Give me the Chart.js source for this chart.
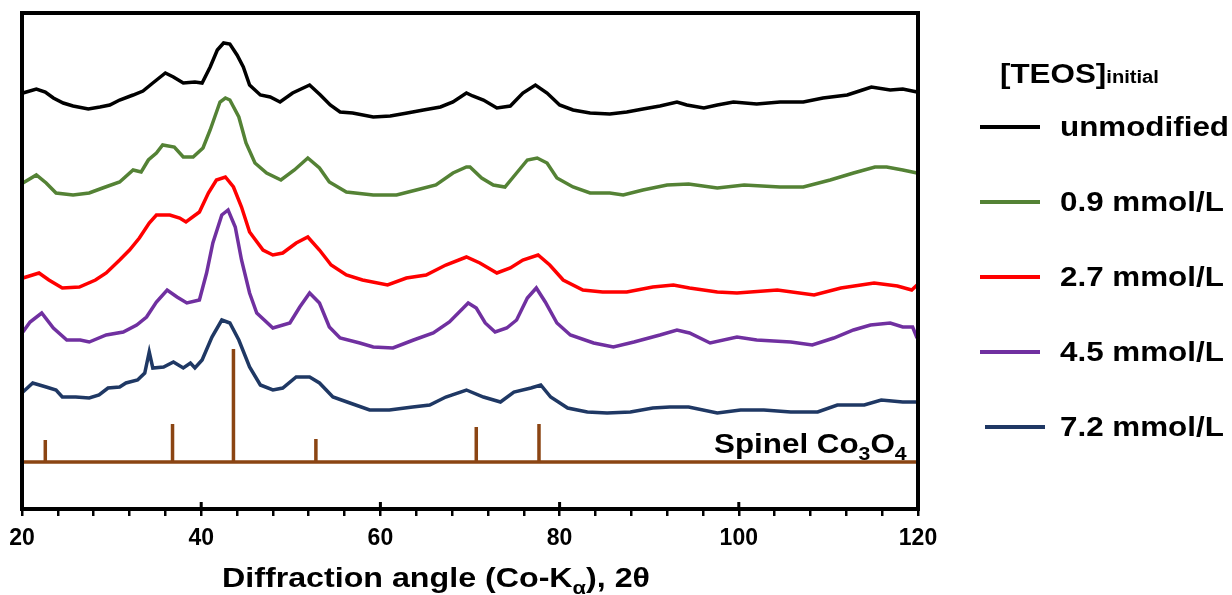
<!DOCTYPE html>
<html><head><meta charset="utf-8">
<script src="https://cdn.jsdelivr.net/npm/chart.js@4"></script>
<style>
body{margin:0;background:#fff}
#wrap{position:relative;width:1232px;height:595px;font-family:"Liberation Sans",Arial,sans-serif;font-weight:bold;color:#000;overflow:hidden}
canvas{position:absolute;left:0;top:0}
.txt{position:absolute;white-space:nowrap;transform-origin:left center;transform:scaleX(1.12);line-height:28px}
.lg{position:absolute;height:4px;width:60px}
</style></head><body>
<div id="wrap"><canvas id="c" width="1232" height="595"></canvas></div>
<script>
// ---- data (2θ in degrees, intensity in arbitrary offset units) ----
const unmodAngle = [20.1,21.6,22.6,23.5,24.6,25.7,27.4,28.7,29.8,30.9,32.4,33.5,34.6,36.0,36.9,38.0,39.3,40.1,41.0,41.8,42.5,43.2,44.0,44.7,45.4,46.6,47.7,48.8,50.2,52.1,53.3,54.4,55.5,56.9,59.2,61.1,63.0,64.8,66.7,68.1,69.6,70.3,71.5,73.0,74.5,75.9,77.3,78.6,80.0,81.5,83.4,85.6,87.5,89.3,91.2,93.1,94.2,96.1,97.6,99.4,102,104.6,107.2,109.4,112.1,113.8,114.8,116.9,118.3,119.9];
const unmodInt   = [416,420,417,411,406,403,400,402,404,409,414,418,426,436,432,426,427,426,442,459,466,465,454,442,424,414,412,407,416,424,414,404,397,396,392,393,396,399,402,407,416,413,409,401,403,416,424,416,404,399,396,395,397,400,403,407,404,401,404,407,405,407,407,411,414,419,422,419,420,417];

const teos09Angle = [20.1,21.6,22.7,23.8,25.7,27.5,29.0,30.9,32.4,33.3,34.1,35.0,35.7,37.0,38.0,39.1,40.2,41.0,42.1,42.7,43.2,44.2,45.0,46.0,47.3,48.9,50.4,51.9,53.2,54.3,56.2,59.2,61.8,64.0,66.2,68.1,69.6,70.0,71.3,72.6,73.9,75.2,76.4,77.5,78.6,79.7,81.5,83.4,85.6,87.1,89.3,92.0,94.4,97.6,100.6,104.6,107.2,110.2,112.8,115.2,116.5,118.3,119.9];
const teos09Int   = [326,334,326,316,314,316,321,327,339,337,349,356,364,362,352,352,361,379,407,411,409,392,366,346,336,329,339,351,341,327,317,314,314,319,324,336,342,342,331,324,322,336,349,351,346,331,322,316,316,314,319,324,325,321,324,322,322,329,336,342,342,339,336];

const teos27Angle = [20.1,21.9,23.0,24.5,26.4,28.2,29.4,30.9,32.0,33.1,34.2,35.0,36.5,37.6,38.3,39.8,40.8,41.7,42.7,43.6,44.5,45.4,46.9,48.0,49.1,50.6,51.9,53.2,54.5,56.2,58.0,60.8,62.9,65.1,67.3,69.6,71.1,73.0,74.5,75.9,77.6,78.9,80.4,82.6,84.8,87.5,90.4,92.7,94.5,97.6,99.8,104.3,108.4,111.4,115.1,117.7,119.3,119.9];
const teos27Int   = [231,236,229,221,222,229,236,249,259,271,286,294,294,291,287,297,316,329,332,322,302,277,259,254,256,266,272,259,244,234,229,224,231,234,244,252,246,236,241,249,254,244,229,219,217,217,222,224,221,217,216,219,214,221,226,223,219,224];

const teos45Angle = [20.1,20.9,22.2,23.5,25.0,26.5,27.5,29.4,31.3,32.8,33.9,35.0,36.2,37.3,38.4,39.8,40.6,41.3,42.3,43.0,43.8,44.5,45.4,46.2,48.0,49.9,51.0,52.1,53.2,54.3,55.5,57.7,59.2,61.4,63.7,65.9,67.7,69.8,70.7,71.7,72.8,74.1,75.2,76.4,77.4,78.4,79.7,81.2,83.8,86.0,88.3,91.2,93.1,94.5,96.8,99.8,102,105.8,108.2,110.6,112.8,114.7,116.9,118.3,119.4,119.9];
const teos45Int   = [177,187,196,181,169,169,167,174,177,184,192,207,219,212,206,209,236,266,294,299,282,249,216,196,181,186,202,216,206,182,171,166,162,161,169,176,187,206,201,186,177,181,189,211,221,207,186,174,166,162,167,174,179,176,166,172,169,167,164,171,179,184,186,182,182,171];

const teos72Angle = [20.1,21.2,22.7,23.8,24.5,26.0,27.5,28.6,29.6,30.9,31.6,32.9,33.7,34.2,34.6,35.8,36.9,38.0,38.8,39.3,40.1,41.2,42.3,43.2,44.2,45.4,46.6,48.0,49.1,50.6,52.1,53.2,54.7,56.6,58.8,61.0,63.6,65.5,67.3,69.6,71.5,73.4,74.9,76.8,77.9,79.0,80.9,83.1,85.3,87.9,90.4,92.3,94.4,97.6,100.2,102.8,105.8,108.8,111.0,114.0,115.9,118.3,119.9];
const teos72Int   = [117,126,122,119,112,112,111,114,121,122,126,129,136,157,141,142,147,141,146,141,149,172,189,186,169,142,124,119,121,132,132,126,112,106,99,99,102,104,112,119,112,107,117,121,124,112,101,97,96,97,101,102,102,96,99,99,97,97,104,104,109,107,107];

// reference pattern: spinel Co3O4 stick lines
const spinelAngle  = [22.6,36.8,43.6,52.8,70.7,77.7];
const spinelHeight = [69,85,160,70,82,85];
const spinelBase   = 47;

const seriesLabels = ['unmodified','0.9 mmol/L','2.7 mmol/L','4.5 mmol/L','7.2 mmol/L'];
const seriesColors = ['#000000','#548235','#ff0000','#7030a0','#1f3864'];
const seriesAngles = [unmodAngle,teos09Angle,teos27Angle,teos45Angle,teos72Angle];
const seriesInts   = [unmodInt,teos09Int,teos27Int,teos45Int,teos72Int];

const xTickLabels = [20,40,60,80,100,120];
const xMinorStep = 4;
// -----------------------------------------------------------------------------------------

const FONT = '"Liberation Sans", Arial, sans-serif';
const zip = (a,b)=>a.slice(0,Math.min(a.length,b.length)).map((v,i)=>({x:v,y:b[i]}));

const datasets = seriesLabels.map((lab,i)=>({
  label: lab, data: zip(seriesAngles[i], seriesInts[i]),
  borderColor: seriesColors[i], borderWidth: 3.5, pointRadius: 0, tension: 0, fill:false
}));
const stickPts = [{x:20,y:spinelBase}];
spinelAngle.forEach((a,i)=>{ stickPts.push({x:a,y:spinelBase},{x:a,y:spinelHeight[i]},{x:a,y:spinelBase}); });
stickPts.push({x:120,y:spinelBase});
datasets.push({label:'Spinel Co3O4', data: stickPts, borderColor:'#8b4513', borderWidth:3.5, pointRadius:0, tension:0, borderJoinStyle:'miter', fill:false});

const framePlugin = {
  id:'frame',
  afterDatasetsDraw(chart){
    const {ctx, chartArea:a, scales:{x}} = chart;
    ctx.save();
    ctx.strokeStyle = '#000';
    ctx.lineWidth = 4;
    ctx.strokeRect(a.left, a.top, a.right-a.left, a.bottom-a.top);
    ctx.lineWidth = 3;
    ctx.beginPath();
    xTickLabels.forEach(v=>{ const px = x.getPixelForValue(v); ctx.moveTo(px,a.bottom); ctx.lineTo(px,a.bottom-7); });
    ctx.stroke();
    ctx.restore();
  }
};

new Chart(document.getElementById('c'), {
  type:'line',
  data:{datasets},
  options:{
    responsive:false, animation:false, devicePixelRatio:1,
    layout:{padding:{left:22,right:314,top:13,bottom:36}},
    plugins:{legend:{display:false}, tooltip:{enabled:false}},
    scales:{
      x:{type:'linear', min:20, max:120,
         afterFit:(s)=>{s.height=50;},
         border:{display:false},
         grid:{display:true, drawOnChartArea:false, drawTicks:true, tickLength:7, color:'#000', lineWidth:2.5},
         ticks:{stepSize:xMinorStep, autoSkip:false, maxRotation:0, padding:9, color:'#000',
                font:{family:FONT, size:23, weight:'bold'},
                callback:(v)=> xTickLabels.includes(v) ? String(v) : ''}
      },
      y:{display:false, min:0, max:496}
    }
  },
  plugins:[framePlugin]
});

// HTML text: legend, annotation, axis title
const wrap = document.getElementById('wrap');
function addTxt(html, left, top, size, extra){
  const d = document.createElement('div');
  d.className='txt'; d.innerHTML = html;
  d.style.left = left+'px'; d.style.top = top+'px'; d.style.fontSize = size+'px';
  if (extra) Object.assign(d.style, extra);
  wrap.appendChild(d); return d;
}
addTxt('[TEOS]<span style="font-size:18px">initial</span>', 1000, 60, 28);
seriesLabels.forEach((lab,i)=>{
  const cy = 127 + i*75;
  const l = document.createElement('div'); l.className='lg';
  l.style.left = (i===4?985:980)+'px'; l.style.top=(cy-2)+'px'; l.style.background=seriesColors[i];
  wrap.appendChild(l);
  addTxt(lab, 1060, cy-14, 28);
});
addTxt('Spinel Co<sub style="font-size:19px;vertical-align:-7px">3</sub>O<sub style="font-size:19px;vertical-align:-7px">4</sub>', 714, 430, 28);
addTxt('Diffraction angle (Co-K<sub style="font-size:19px;vertical-align:-7px">α</sub>), 2θ', 222, 564, 28, {transform:'scaleX(1.15)'});
</script>
</body></html>
